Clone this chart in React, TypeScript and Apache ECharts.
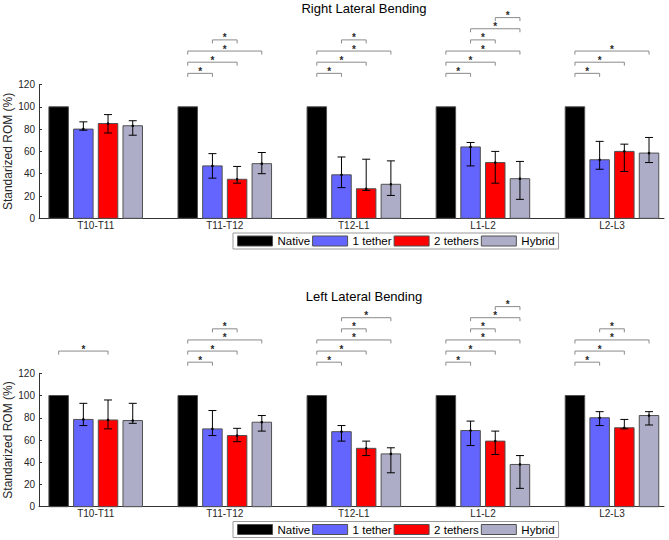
import React, { useEffect, useRef } from "react";
import * as echarts from "echarts";

// Spinal segments along the x axis and the four constructs tested at each one
const segments = ["T10-T11", "T11-T12", "T12-L1", "L1-L2", "L2-L3"];
const treatments = ["Native", "1 tether", "2 tethers", "Hybrid"];

// Right lateral bending, ROM as % of native (mean, lower / upper error bar ends)
const rightNative = [100, 100, 100, 100, 100];
const rightOneTether = [80, 47, 39, 64, 52.5];
const rightOneTetherLow = [79, 36, 27.5, 47, 44];
const rightOneTetherHigh = [86.5, 58, 55, 68, 69];
const rightTwoTethers = [85, 35, 26.5, 50, 60];
const rightTwoTethersLow = [76.5, 31.5, 25, 31.5, 42];
const rightTwoTethersHigh = [93, 46.5, 53, 60, 66.5];
const rightHybrid = [83, 49, 30.5, 35.5, 58.5];
const rightHybridLow = [74.5, 40, 20.5, 17, 50];
const rightHybridHigh = [87.5, 59, 51.5, 51, 72.5];

// Left lateral bending
const leftNative = [100, 100, 100, 100, 100];
const leftOneTether = [78.5, 70, 67.5, 68.5, 80];
const leftOneTetherLow = [73, 64, 59, 55, 73];
const leftOneTetherHigh = [93, 86.5, 73, 77, 85.5];
const leftTwoTethers = [78, 64, 52.5, 59, 71];
const leftTwoTethersLow = [70, 58.5, 46, 47, 70];
const leftTwoTethersHigh = [96, 70.5, 59, 68, 78.5];
const leftHybrid = [77.5, 76, 47.5, 38, 82];
const leftHybridLow = [75, 68, 30.5, 16.5, 73.5];
const leftHybridHigh = [93, 82, 53, 46, 85.5];

// Pairwise comparisons (treatment indices); each one has its own bracket row
const comparisons = [
  [0, 1],
  [0, 2],
  [0, 3],
  [1, 2],
  [1, 3],
  [2, 3],
];
// Significant comparisons per segment (indices into `comparisons`)
const rightSignificant = [[], [0, 1, 2, 3], [0, 1, 2, 3], [0, 1, 2, 3, 4, 5], [0, 1, 2]];
const leftSignificant = [[1], [0, 1, 2, 3], [0, 1, 2, 3, 4], [0, 1, 2, 3, 4, 5], [0, 1, 2, 3]];

const FONT = '"Liberation Sans", Arial, Helvetica, sans-serif';
const COLORS = ["#000000", "#6464ff", "#ff0000", "#adadc8"];
const EDGE = "#505050";
const AXIS = "#333333";
const TEXT = "#262626";
const STAR = "#2a2a2a";
const SLOT = 0.1913; // spacing between bars inside a group (x units)
const BAR_W = 0.151; // bar width (x units)
const X_MIN = 0.5607;
const X_MAX = 5.403;
const BRACKET_BASE = 130;
const BRACKET_STEP = 10;

function barRenderer(slot: number, color: string) {
  return (_params: any, api: any) => {
    const g = api.value(0);
    const mean = api.value(1);
    const lo = api.value(2);
    const hi = api.value(3);
    const x = g + (slot - 1.5) * SLOT;
    const top = api.coord([x, mean]);
    const base = api.coord([x, 0]);
    const w = api.size([BAR_W, 0])[0];
    const children: any[] = [
      {
        type: "rect",
        shape: { x: top[0] - w / 2, y: top[1], width: w, height: base[1] - top[1] },
        style: { fill: color, stroke: EDGE, lineWidth: 1 },
      },
    ];
    if (Number.isFinite(lo) && Number.isFinite(hi)) {
      const pHi = api.coord([x, hi]);
      const pLo = api.coord([x, lo]);
      const cap = 4;
      const line = { stroke: "#000", lineWidth: 1 };
      children.push(
        { type: "line", shape: { x1: pHi[0], y1: pHi[1], x2: pLo[0], y2: pLo[1] }, style: line },
        { type: "line", shape: { x1: pHi[0] - cap, y1: pHi[1], x2: pHi[0] + cap, y2: pHi[1] }, style: line },
        { type: "line", shape: { x1: pLo[0] - cap, y1: pLo[1], x2: pLo[0] + cap, y2: pLo[1] }, style: line },
        { type: "circle", shape: { cx: top[0], cy: top[1], r: 1.3 }, style: { fill: "#000" } }
      );
    }
    return { type: "group", children };
  };
}

function bracketRenderer(_params: any, api: any) {
  const g = api.value(0);
  const a = api.value(1);
  const b = api.value(2);
  const row = api.value(3);
  const level = BRACKET_BASE + BRACKET_STEP * row;
  const p1 = api.coord([g + (a - 1.5) * SLOT, level]);
  const p2 = api.coord([g + (b - 1.5) * SLOT, level]);
  const tick = 3.5;
  return {
    type: "group",
    children: [
      {
        type: "polyline",
        shape: {
          points: [
            [p1[0], p1[1] + tick],
            [p1[0], p1[1]],
            [p2[0], p2[1]],
            [p2[0], p2[1] + tick],
          ],
        },
        style: { stroke: "#8a8a8a", lineWidth: 1, fill: null },
      },
      {
        type: "text",
        x: (p1[0] + p2[0]) / 2,
        y: p1[1] - 2,
        style: {
          text: "*",
          fontSize: 10,
          fontWeight: "bold",
          fontFamily: FONT,
          fill: STAR,
          align: "center",
          verticalAlign: "middle",
          textAlign: "center",
          textVerticalAlign: "middle",
        },
      },
    ],
  };
}

function panelSeries(
  gridIndex: number,
  means: number[][],
  lows: (number[] | null)[],
  highs: (number[] | null)[],
  significant: number[][]
) {
  const series: any[] = treatments.map((name, t) => ({
    type: "custom",
    name,
    xAxisIndex: gridIndex,
    yAxisIndex: gridIndex,
    itemStyle: { color: COLORS[t], borderColor: EDGE, borderWidth: 1 },
    encode: { x: 0, y: 1 },
    renderItem: barRenderer(t, COLORS[t]),
    data: means[t].map((m, i) => [
      i + 1,
      m,
      lows[t] ? (lows[t] as number[])[i] : null,
      highs[t] ? (highs[t] as number[])[i] : null,
    ]),
  }));
  const bracketData: number[][] = [];
  significant.forEach((list, i) => {
    list.forEach((c) => {
      bracketData.push([i + 1, comparisons[c][0], comparisons[c][1], c]);
    });
  });
  series.push({
    type: "custom",
    name: "significance",
    xAxisIndex: gridIndex,
    yAxisIndex: gridIndex,
    silent: true,
    clip: false,
    itemStyle: { color: STAR },
    encode: { x: 0, y: 3 },
    renderItem: bracketRenderer,
    data: bracketData,
  });
  return series;
}

function xAxis(gridIndex: number) {
  return {
    type: "value",
    gridIndex,
    min: X_MIN,
    max: X_MAX,
    splitLine: { show: false },
    axisTick: { show: false },
    axisLine: { show: true, onZero: false, lineStyle: { color: AXIS, width: 1 } },
    axisLabel: {
      customValues: [1, 2, 3, 4, 5],
      formatter: (v: number) => segments[Math.round(v) - 1] ?? "",
      fontSize: 10,
      fontFamily: FONT,
      color: TEXT,
      margin: 2,
    },
  };
}

function yAxis(gridIndex: number) {
  return {
    type: "value",
    gridIndex,
    min: 0,
    max: 120,
    interval: 20,
    splitLine: { show: false },
    axisLine: { show: true, lineStyle: { color: AXIS, width: 1 } },
    axisTick: { show: true, inside: true, length: 3, lineStyle: { color: AXIS } },
    axisLabel: { fontSize: 10, fontFamily: FONT, color: TEXT, margin: 4 },
    name: "Standarized ROM (%)",
    nameLocation: "middle",
    nameGap: 25,
    nameMoveOverlap: false,
    nameTextStyle: { fontSize: 12, fontFamily: FONT, color: TEXT },
  };
}

function legend(top: number) {
  return {
    top,
    left: 233,
    orient: "horizontal",
    padding: [2, 4, 2, 4],
    itemGap: 2,
    itemWidth: 35,
    itemHeight: 10,
    icon: "rect",
    borderColor: "#9a9a9a",
    borderWidth: 1,
    selectedMode: false,
    textStyle: { fontSize: 11.5, fontFamily: FONT, color: "#000", padding: [0, 0, 0, 0] },
    data: treatments.map((name, t) => ({
      name,
      itemStyle: { color: COLORS[t], borderColor: EDGE, borderWidth: 1 },
    })),
  };
}

export default function App() {
  const ref = useRef<HTMLDivElement>(null);

  useEffect(() => {
    if (!ref.current) return;
    const chart = echarts.init(ref.current, null, { renderer: "svg" });
    chart.setOption({
      animation: false,
      backgroundColor: "#ffffff",
      textStyle: { fontFamily: FONT },
      grid: [
        { left: 39, top: 84.5, width: 625, height: 133.8, containLabel: false, outerBoundsMode: "none" },
        { left: 39, top: 373.3, width: 625, height: 133.4, containLabel: false, outerBoundsMode: "none" },
      ],
      xAxis: [xAxis(0), xAxis(1)],
      yAxis: [yAxis(0), yAxis(1)],
      legend: [legend(233), legend(521.5)],
      graphic: [
        {
          type: "text",
          x: 364,
          y: 8,
          style: {
            text: "Right Lateral Bending",
            fontSize: 13,
            fontFamily: FONT,
            fill: "#000",
            align: "center",
            verticalAlign: "middle",
            textAlign: "center",
            textVerticalAlign: "middle",
          },
        },
        {
          type: "text",
          x: 364,
          y: 296,
          style: {
            text: "Left Lateral Bending",
            fontSize: 13,
            fontFamily: FONT,
            fill: "#000",
            align: "center",
            verticalAlign: "middle",
            textAlign: "center",
            textVerticalAlign: "middle",
          },
        },
      ],
      series: [
        ...panelSeries(
          0,
          [rightNative, rightOneTether, rightTwoTethers, rightHybrid],
          [null, rightOneTetherLow, rightTwoTethersLow, rightHybridLow],
          [null, rightOneTetherHigh, rightTwoTethersHigh, rightHybridHigh],
          rightSignificant
        ),
        ...panelSeries(
          1,
          [leftNative, leftOneTether, leftTwoTethers, leftHybrid],
          [null, leftOneTetherLow, leftTwoTethersLow, leftHybridLow],
          [null, leftOneTetherHigh, leftTwoTethersHigh, leftHybridHigh],
          leftSignificant
        ),
      ],
    });
    return () => chart.dispose();
  }, []);

  return (
    <div
      ref={ref}
      style={{ position: "fixed", left: 0, top: 0, width: 669, height: 540, background: "#fff" }}
    />
  );
}
